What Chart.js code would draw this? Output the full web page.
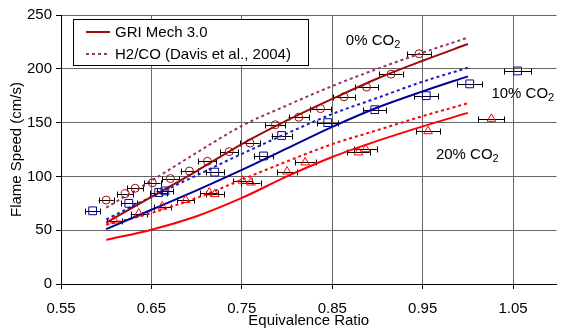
<!DOCTYPE html>
<html>
<head>
<meta charset="utf-8">
<script src="https://cdn.jsdelivr.net/npm/chart.js@4.4.1/dist/chart.umd.min.js"></script>
<style>
    html, body { margin: 0; padding: 0; background: #fff; }
</style>
</head>
<body>
<canvas id="myChart" width="563" height="328"></canvas>
<script>
// model curves (equivalence ratio -> flame speed, cm/s)
var modelPhi = [0.60, 0.65, 0.70, 0.75, 0.80, 0.85, 0.90, 0.95, 1.00];
var gri0    = [57, 81, 105, 130, 152, 172, 191, 207.5, 223];
var davis0  = [71, 96, 122, 147, 166, 184, 200, 215, 229];
var gri10   = [51, 69, 87, 106, 126, 146, 164, 179, 193];
var davis10 = [60, 81, 101, 121, 140, 158, 173, 188, 201];
var gri20   = [41, 50.5, 63, 80, 100, 118, 133, 146.5, 159];
var davis20 = [55, 66, 80, 97, 114, 130, 143, 156, 168];

// measurements
var exp0Phi   = [0.600, 0.621, 0.632, 0.651, 0.671, 0.692, 0.712, 0.736, 0.759, 0.787, 0.813, 0.837, 0.863, 0.888, 0.915, 0.946];
var exp0Speed = [78, 84, 89, 94, 98, 105, 114, 123, 131, 148, 155, 163, 174, 183, 195, 214];
var exp10Phi   = [0.585, 0.625, 0.658, 0.665, 0.720, 0.774, 0.794, 0.845, 0.897, 0.954, 1.002, 1.055];
var exp10Speed = [68, 75, 85, 86.5, 104, 119, 138, 150, 162, 175, 186, 198];
var exp20Phi   = [0.609, 0.636, 0.662, 0.688, 0.714, 0.720, 0.751, 0.760, 0.800, 0.820, 0.879, 0.887, 0.956, 1.026];
var exp20Speed = [59, 65.5, 72, 78, 85, 83.5, 96, 94.3, 104.5, 113, 122.3, 125.3, 142, 153.5];
var phiErr = 0.014; // relative uncertainty on phi

var xTicks = [0.55, 0.65, 0.75, 0.85, 0.95, 1.05];
var yTicks = [0, 50, 100, 150, 200, 250];

var labels = [
    {text: '0% CO', sub: '2', x: 0.865, y: 222},
    {text: '10% CO', sub: '2', x: 1.026, y: 173},
    {text: '20% CO', sub: '2', x: 0.9646, y: 116.5}
];

var darkRed = '#9c0a0a', purple = '#993366', darkBlue = '#000099', blue = '#1a1acc', red = '#ff0000';
var FONT = "'Liberation Sans', Arial, sans-serif";

function pts(xs, ys) {
    return xs.map(function(x, i) { return {x: x, y: ys[i]}; });
}

function curve(label, ys, color, dashed, inLegend) {
    return {
        label: label, data: pts(modelPhi, ys), showLine: true,
        borderColor: color, borderWidth: 2, borderDash: dashed ? [3, 3] : [],
        pointRadius: 0, cubicInterpolationMode: 'monotone', inLegend: inLegend
    };
}

function markers(label, xs, ys, color, style, r) {
    return {
        label: label, data: pts(xs, ys), showLine: false,
        pointStyle: style, pointRadius: r, pointBorderWidth: 1,
        pointBorderColor: color, pointBackgroundColor: 'rgba(0,0,0,0)',
        borderColor: color, errorBars: true
    };
}

// horizontal error bars with caps
var errorBarPlugin = {
    id: 'errorBars',
    beforeDatasetsDraw: function(chart) {
        var ctx = chart.ctx, xs = chart.scales.x, ys = chart.scales.y;
        ctx.save();
        ctx.strokeStyle = '#000';
        ctx.lineWidth = 1;
        chart.data.datasets.forEach(function(ds) {
            if (!ds.errorBars) return;
            ds.data.forEach(function(p) {
                var x1 = xs.getPixelForValue(p.x * (1 - phiErr));
                var x2 = xs.getPixelForValue(p.x * (1 + phiErr));
                var y = Math.round(ys.getPixelForValue(p.y)) + 0.5;
                ctx.beginPath();
                ctx.moveTo(x1, y); ctx.lineTo(x2, y);
                ctx.moveTo(Math.round(x1) + 0.5, y - 3); ctx.lineTo(Math.round(x1) + 0.5, y + 3);
                ctx.moveTo(Math.round(x2) + 0.5, y - 3); ctx.lineTo(Math.round(x2) + 0.5, y + 3);
                ctx.stroke();
            });
        });
        ctx.restore();
    }
};

// boxed legend in the upper left + CO2 labels
var legendPlugin = {
    id: 'boxLegend',
    afterDatasetsDraw: function(chart) {
        var ctx = chart.ctx, a = chart.chartArea;
        var left = a.left + 12, top = a.top + 4;
        ctx.save();
        ctx.fillStyle = '#fff';
        ctx.fillRect(left, top, 235, 46);
        ctx.strokeStyle = '#000';
        ctx.lineWidth = 1;
        ctx.strokeRect(left + 0.5, top + 0.5, 235, 46);
        var items = chart.data.datasets.filter(function(d) { return d.inLegend; });
        items.forEach(function(d, i) {
            var y = top + 13 + i * 22;
            ctx.strokeStyle = d.borderColor;
            ctx.lineWidth = 2;
            ctx.setLineDash(d.borderDash);
            ctx.beginPath();
            ctx.moveTo(left + 13, y); ctx.lineTo(left + 37, y);
            ctx.stroke();
            ctx.setLineDash([]);
            ctx.fillStyle = '#000';
            ctx.font = '15px ' + FONT;
            ctx.textBaseline = 'middle';
            ctx.fillText(d.label, left + 42, y + 1);
        });

        var xs = chart.scales.x, ys = chart.scales.y;
        ctx.textBaseline = 'alphabetic';
        labels.forEach(function(l) {
            var px = xs.getPixelForValue(l.x), py = ys.getPixelForValue(l.y);
            ctx.font = '15px ' + FONT;
            ctx.fillText(l.text, px, py);
            var w = ctx.measureText(l.text).width;
            ctx.font = '11px ' + FONT;
            ctx.fillText(l.sub, px + w, py + 3);
        });
        ctx.restore();
    }
};

document.addEventListener("DOMContentLoaded", function() {
    Chart.defaults.font.family = FONT;
    Chart.defaults.font.size = 15;
    Chart.defaults.color = '#000';

    var ctx = document.getElementById('myChart').getContext('2d');
    var myChart = new Chart(ctx, {
        type: 'scatter',
        data: {
            datasets: [
                markers('0% CO2', exp0Phi, exp0Speed, darkRed, 'circle', 4),
                markers('10% CO2', exp10Phi, exp10Speed, darkBlue, 'rect', 5.5),
                markers('20% CO2', exp20Phi, exp20Speed, red, 'triangle', 5),
                curve('GRI Mech 3.0', gri0, darkRed, false, true),
                curve('H2/CO (Davis et al., 2004)', davis0, purple, true, true),
                curve('GRI 10%', gri10, darkBlue, false, false),
                curve('Davis 10%', davis10, blue, true, false),
                curve('GRI 20%', gri20, red, false, false),
                curve('Davis 20%', davis20, red, true, false)
            ]
        },
        options: {
            responsive: false,
            animation: false,
            events: [],
            layout: { padding: { top: 15, right: 0, bottom: 0, left: 0 } },
            plugins: {
                legend: { display: false },
                tooltip: { enabled: false }
            },
            scales: {
                x: {
                    type: 'linear', min: 0.55, max: 1.098,
                    afterBuildTicks: function(scale) {
                        scale.ticks = xTicks.map(function(v) { return {value: v}; });
                    },
                    afterFit: function(scale) { scale.height = 44; },
                    ticks: {
                        padding: 11,
                        callback: function(v) { return Number(v).toFixed(2); }
                    },
                    grid: { color: '#666', tickColor: '#000', tickLength: 5 },
                    border: { color: '#000', width: 1 },
                    title: { display: true, text: 'Equivalence Ratio', padding: { top: 0, bottom: -2 } }
                },
                y: {
                    type: 'linear', min: 0, max: 250,
                    afterBuildTicks: function(scale) {
                        scale.ticks = yTicks.map(function(v) { return {value: v}; });
                    },
                    afterFit: function(scale) { scale.width = 61; },
                    ticks: { padding: 4 },
                    grid: { color: '#666', tickColor: '#000', tickLength: 5 },
                    border: { color: '#000', width: 1 },
                    title: { display: true, text: 'Flame Speed (cm/s)', padding: { top: 8, bottom: 0 } }
                }
            }
        },
        plugins: [errorBarPlugin, legendPlugin]
    });
});
</script>
</body>
</html>
